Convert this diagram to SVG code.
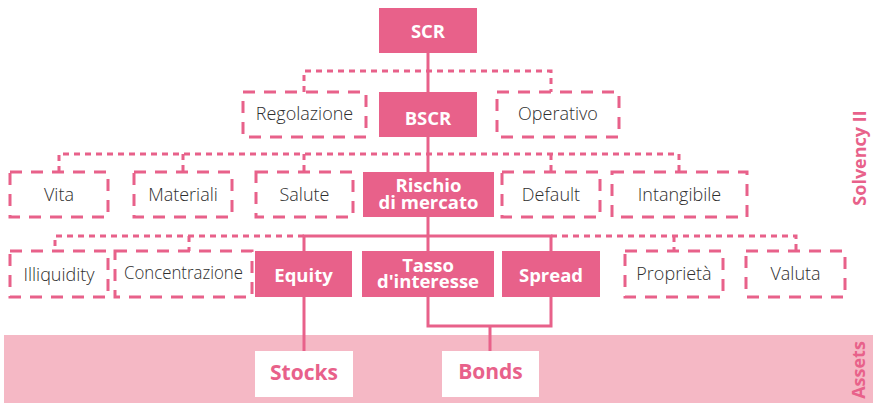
<svg xmlns="http://www.w3.org/2000/svg" width="873" height="403" viewBox="0 0 873 403">
  <style>
    .solid { fill: #e8618a; }
    .dash { fill: #ffffff; stroke: #e8618a; stroke-width: 3; stroke-dasharray: 12 9; }
    .white { fill: #ffffff; }
    .lbl { font-family: "Open Sans", "Liberation Sans", sans-serif; font-size: 18px; font-weight: 300; fill: #2e2e2e; text-anchor: middle; }
    .blbl { font-family: "Open Sans", "Liberation Sans", sans-serif; font-size: 18.5px; font-weight: 700; fill: #ffffff; text-anchor: middle; }
    .alb { font-family: "Open Sans", "Liberation Sans", sans-serif; font-size: 21px; font-weight: 700; fill: #e8618a; text-anchor: middle; }
    .side { font-family: "Open Sans", "Liberation Sans", sans-serif; font-size: 18px; font-weight: 700; fill: #e8618a; text-anchor: middle; }
    .cs { fill: none; stroke: #e8618a; stroke-width: 3; }
    .cd { fill: none; stroke: #e8618a; stroke-width: 3; stroke-dasharray: 6 5; }
  </style>

  <!-- assets band -->
  <rect x="4" y="335" width="869" height="68" fill="#f5b8c5"/>

  <!-- connectors -->
  <g id="connectors">
    <path class="cs" d="M428 53 V172"/>
    <path class="cd" d="M304 92 V71 H551 V92"/>
    <path class="cd" d="M59 172 V154 H679 V172 M183 154 V172 M304 154 V172 M551 154 V172"/>
    <path class="cs" d="M428 217 V251 M304 251 V236 H551 V251"/>
    <path class="cd" d="M304 236 H55 V251 M189 236 V251"/>
    <path class="cd" d="M551 236 H796 V251 M674 236 V251"/>
    <path class="cs" d="M304 297 V351"/>
    <path class="cs" d="M428 297 V326 H551 V297 M490 326 V351"/>
  </g>

  <g id="scr"><rect class="solid" x="379" y="8" width="98" height="45"/><text class="blbl" x="428" y="38">SCR</text></g>
  <g id="bscr"><rect class="solid" x="379" y="92" width="98" height="45"/><text class="blbl" x="428" y="125">BSCR</text></g>
  <g id="regolazione"><rect class="dash" x="243" y="92" width="123" height="45"/><text class="lbl" x="304.5" y="120">Regolazione</text></g>
  <g id="operativo"><rect class="dash" x="497" y="92" width="122" height="45"/><text class="lbl" x="558" y="120">Operativo</text></g>

  <g id="vita"><rect class="dash" x="10" y="172" width="98" height="45"/><text class="lbl" x="59" y="201">Vita</text></g>
  <g id="materiali"><rect class="dash" x="134" y="172" width="98" height="45"/><text class="lbl" x="183" y="201">Materiali</text></g>
  <g id="salute"><rect class="dash" x="256" y="172" width="97" height="45"/><text class="lbl" x="304.5" y="201">Salute</text></g>
  <g id="rischio-di-mercato"><rect class="solid" x="363" y="172" width="131" height="45"/><text class="blbl" x="428.5" y="192"><tspan x="428.5">Rischio</tspan><tspan x="428.5" dy="17">di mercato</tspan></text></g>
  <g id="default"><rect class="dash" x="502" y="172" width="98" height="45"/><text class="lbl" x="551" y="201">Default</text></g>
  <g id="intangibile"><rect class="dash" x="612" y="172" width="135" height="45"/><text class="lbl" x="679.5" y="201">Intangibile</text></g>

  <g id="illiquidity"><rect class="dash" x="10" y="251" width="98" height="46"/><text class="lbl" x="59" y="281">Illiquidity</text></g>
  <g id="concentrazione"><rect class="dash" x="115" y="251" width="137" height="46"/><text class="lbl" x="183.5" y="279" textLength="119" lengthAdjust="spacingAndGlyphs">Concentrazione</text></g>
  <g id="equity"><rect class="solid" x="255" y="251" width="97" height="46"/><text class="blbl" x="303.5" y="282">Equity</text></g>
  <g id="tasso-di-interesse"><rect class="solid" x="362" y="251" width="132" height="46"/><text class="blbl" x="428" y="272"><tspan x="428">Tasso</tspan><tspan x="428" dy="16">d'interesse</tspan></text></g>
  <g id="spread"><rect class="solid" x="502" y="251" width="98" height="46"/><text class="blbl" x="551" y="282">Spread</text></g>
  <g id="proprieta"><rect class="dash" x="625" y="251" width="98" height="46"/><text class="lbl" x="674" y="280">Proprietà</text></g>
  <g id="valuta"><rect class="dash" x="746" y="251" width="99" height="46"/><text class="lbl" x="795.5" y="280">Valuta</text></g>

  <g id="stocks"><rect class="white" x="255" y="351" width="98" height="46"/><text class="alb" x="304" y="380">Stocks</text></g>
  <g id="bonds"><rect class="white" x="442" y="351" width="97" height="46"/><text class="alb" x="490.5" y="379">Bonds</text></g>

  <!-- side labels -->
  <text class="side" transform="translate(866 158) rotate(-90)">Solvency II</text>
  <text class="side" transform="translate(865 370) rotate(-90)">Assets</text>
</svg>
